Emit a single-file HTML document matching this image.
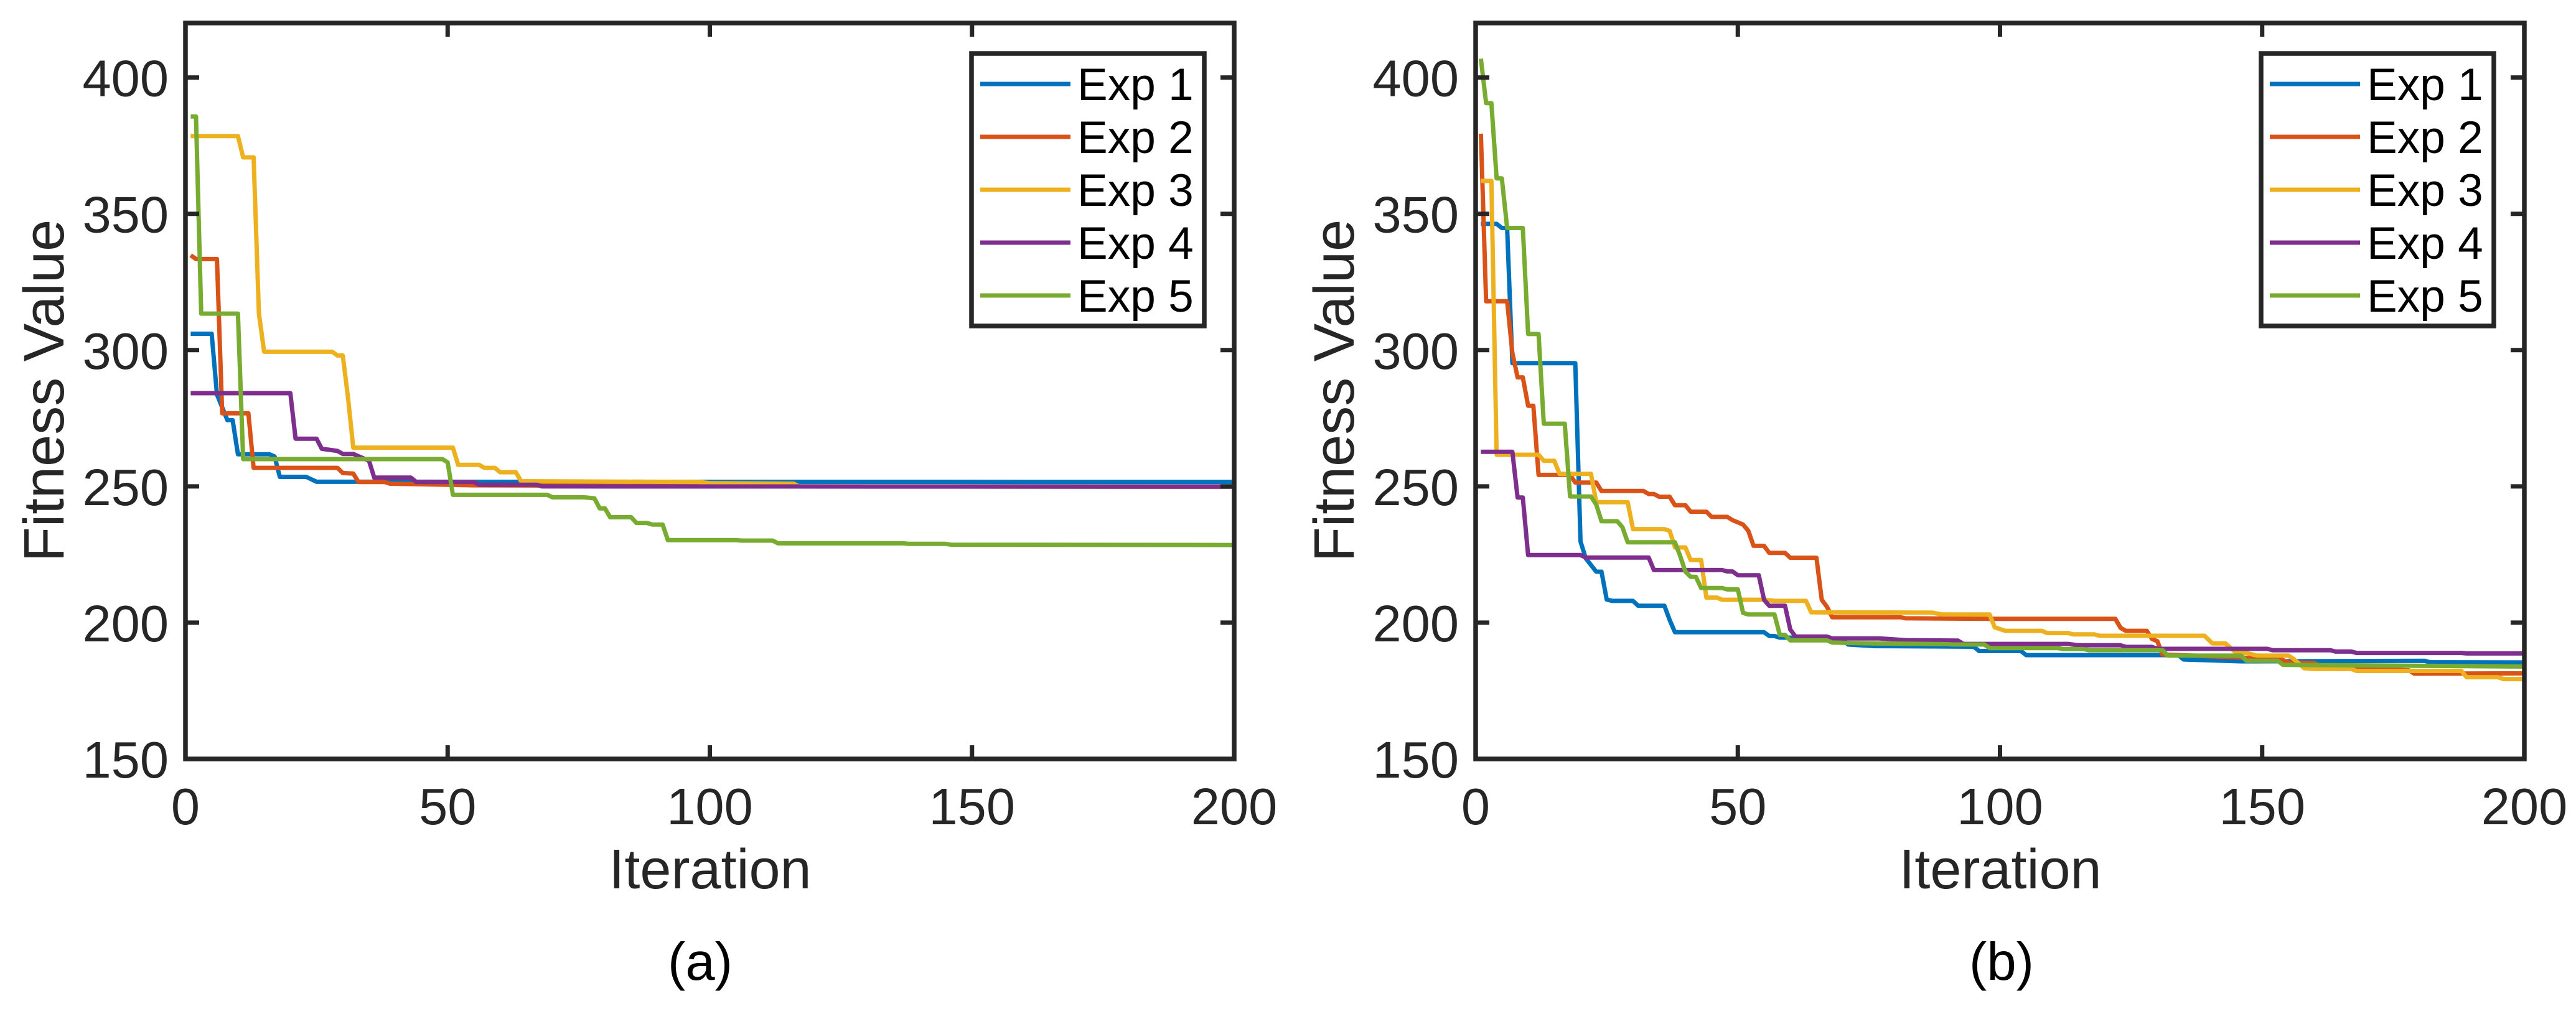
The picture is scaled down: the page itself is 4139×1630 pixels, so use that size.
<!DOCTYPE html>
<html lang="en">
<head>
<meta charset="utf-8">
<title>Fitness Value vs Iteration</title>
<style>
html,body{margin:0;padding:0;background:#fff;}
svg{display:block;font-family:"Liberation Sans",Arial,sans-serif;}
</style>
</head>
<body>
<svg id="figure" xmlns="http://www.w3.org/2000/svg" width="4139" height="1630" viewBox="0 0 4139 1630">
  <rect x="0" y="0" width="4139" height="1630" fill="#ffffff"/>
  <g id="panel-a"></g>
  <g id="panel-b"></g>
  <text x="1141" y="1428" font-size="90" fill="#262626" text-anchor="middle">Iteration</text>
  <text x="3214" y="1428" font-size="90" fill="#262626" text-anchor="middle">Iteration</text>
  <text transform="translate(102 628) rotate(-90)" font-size="92" fill="#262626" text-anchor="middle">Fitness Value</text>
  <text transform="translate(2175 628) rotate(-90)" font-size="92" fill="#262626" text-anchor="middle">Fitness Value</text>
  <text x="1125" y="1575" font-size="85" fill="#000000" text-anchor="middle">(a)</text>
  <text x="3216" y="1575" font-size="85" fill="#000000" text-anchor="middle">(b)</text>
</svg>
<script>
// Axis tick labels
const xTickLabels = [0, 50, 100, 150, 200];
const yTickLabels = [150, 200, 250, 300, 350, 400];
const legendLabels = ["Exp 1", "Exp 2", "Exp 3", "Exp 4", "Exp 5"];
const seriesColors = ["#0072BD", "#D95319", "#EDB120", "#7E2F8E", "#77AC30"];

// Panel (a) series: iteration breakpoints and fitness values
const a1Iter = [1, 5, 6, 8, 9, 10, 16, 17, 18, 23, 25, 200];
const a1Val = [306, 306, 283.7, 274.3, 274.3, 261.8, 261.8, 261, 253.5, 253.5, 251.7, 251.6];
const a2Iter = [1, 2, 6, 7, 12, 13, 29, 30, 32, 33, 38, 39, 55, 116, 200];
const a2Val = [334.8, 333.4, 333.4, 276.8, 276.8, 256.8, 256.8, 254.9, 254.7, 251.6, 251.6, 251, 250.4, 250, 249.9];
const a3Iter = [1, 10, 11, 13, 14, 15, 28, 29, 30, 31, 32, 51, 52, 56, 57, 59, 60, 63, 64, 98, 100, 116, 117, 200];
const a3Val = [378.5, 378.5, 370.7, 370.7, 313.4, 299.4, 299.4, 298, 298, 282.5, 264.2, 264.2, 257.9, 257.9, 256.8, 256.8, 255.2, 255.2, 251.9, 251.6, 251.2, 251, 250, 249.9];
const a4Iter = [1, 20, 21, 25, 26, 29, 30, 32, 35, 36, 43, 44, 55, 56, 67, 68, 200];
const a4Val = [284.2, 284.2, 267.5, 267.5, 263.8, 263, 261.9, 261.9, 259.4, 253.2, 253.2, 251.6, 251.6, 250.6, 250.6, 250, 249.9];
const a5Iter = [1, 2, 3, 10, 11, 49, 50, 51, 69, 70, 76, 78, 79, 80, 81, 85, 86, 88, 89, 91, 92, 105, 106, 112, 113, 137, 138, 145, 146, 200];
const a5Val = [385.7, 385.7, 313.4, 313.4, 260, 260, 258.8, 246.9, 246.9, 246, 246, 245.6, 241.9, 241.9, 238.7, 238.7, 236.6, 236.6, 236, 236, 230.3, 230.3, 230.1, 230.1, 229.1, 229.1, 228.9, 228.9, 228.6, 228.5];

// Panel (b) series: iteration breakpoints and fitness values
const b1Iter = [1, 4, 5, 6, 7, 19, 20, 21, 23, 24, 25, 26, 30, 31, 36, 37, 38, 55, 56, 57, 58, 67, 68, 70, 71, 76, 95, 96, 104, 105, 134, 135, 146, 181, 182, 200];
const b1Val = [346.3, 346.3, 344.8, 344.8, 295.2, 295.2, 229.8, 223.6, 218.7, 218.7, 208.5, 208, 208, 206.2, 206.2, 201, 196.5, 196.5, 195.1, 195.1, 194.5, 194.5, 194, 194, 192, 191.4, 191.2, 189.6, 189.6, 188.1, 188.1, 186.5, 185.8, 186, 185.5, 185.4];
const b2Iter = [1, 2, 6, 7, 8, 9, 10, 11, 12, 18, 19, 23, 24, 32, 33, 34, 35, 37, 38, 40, 41, 44, 45, 48, 49, 51, 52, 53, 55, 56, 59, 60, 65, 66, 67, 68, 81, 82, 98, 122, 123, 124, 128, 129, 130, 131, 137, 147, 153, 155, 160, 161, 178, 179, 200];
const b2Val = [379.4, 317.9, 317.9, 299, 290, 290, 279.6, 279.6, 254.2, 254.2, 251.4, 251.4, 248.3, 248.3, 247.2, 247.2, 246.2, 246.2, 243.1, 243.1, 240.7, 240.7, 238.8, 238.8, 237.6, 236, 233.7, 228.2, 228.2, 225.6, 225.6, 223.8, 223.8, 208.4, 205.8, 202, 202, 201.6, 201.4, 201.4, 198.1, 197, 197, 194, 193.2, 188.3, 187.9, 187.1, 187.1, 185.4, 185.2, 184, 182.5, 181.3, 181.4];
const b3Iter = [1, 3, 4, 12, 13, 15, 16, 22, 23, 29, 30, 36, 37, 38, 40, 41, 43, 44, 46, 47, 55, 57, 63, 64, 87, 89, 98, 99, 101, 108, 109, 113, 114, 118, 119, 139, 140.5, 143, 145, 147, 149, 155, 156, 158, 160, 167, 168, 188, 189, 195, 196, 200];
const b3Val = [362.1, 362.1, 261.6, 261.6, 259.4, 259.4, 254.6, 254.6, 244.2, 244.2, 234.3, 234.3, 233.7, 227.6, 227.6, 223, 223, 209.2, 209.2, 208.4, 208.4, 208, 208, 203.8, 203.7, 203, 203, 198.3, 197, 197, 196.2, 196.2, 195.7, 195.7, 195.2, 195.2, 192.4, 192.4, 189, 188.9, 187.9, 187.9, 186.7, 183.3, 183, 183, 182.3, 182.3, 180, 180, 179.3, 179.3];
const b4Iter = [1, 7, 8, 9, 10, 20, 21, 33, 34, 47, 48, 49, 50, 54, 55, 56, 59, 60, 61, 67, 68, 77, 82, 92, 93, 113, 115, 123, 124, 129, 130, 151, 152, 163, 164, 167, 168, 188, 189, 200];
const b4Val = [262.7, 262.7, 245.9, 245.9, 224.8, 224.8, 223.9, 223.9, 219.3, 219.3, 218.8, 218.8, 217.4, 217.4, 208.4, 206.2, 206.2, 197.5, 194.9, 194.9, 194.2, 194.2, 193.6, 193.4, 192.2, 192.2, 191.7, 191.7, 191.1, 191.1, 190.4, 190.4, 189.9, 189.9, 189.4, 189.4, 188.9, 188.9, 188.7, 188.7];
const b5Iter = [1, 2, 3, 4, 5, 6, 9, 10, 12, 13, 17, 18, 22, 23, 24, 27, 28, 29, 38, 39, 40, 41, 42, 43, 47, 48, 50, 51, 52, 57, 58, 59, 60, 67, 68, 75, 90, 91, 97, 98, 111, 112, 116, 117, 131, 132, 146, 147, 153, 154, 200];
const b5Val = [406.9, 390.6, 390.6, 363, 363, 344.8, 344.8, 305.9, 305.9, 273, 273, 246.3, 246.3, 243.3, 237.2, 237.2, 235, 229.5, 229.5, 224.5, 218.7, 216.8, 216.8, 212.7, 212.7, 212.2, 212.2, 203.6, 203, 203, 195.5, 195.5, 193.5, 193.5, 192.7, 192.4, 192.1, 192, 192, 190.7, 190.7, 190.3, 190.3, 189.9, 189.9, 187.9, 187.9, 186, 186, 184.5, 183.9];

const panelASeries = [[a1Iter, a1Val], [a2Iter, a2Val], [a3Iter, a3Val], [a4Iter, a4Val], [a5Iter, a5Val]];
const panelBSeries = [[b1Iter, b1Val], [b2Iter, b2Val], [b3Iter, b3Val], [b4Iter, b4Val], [b5Iter, b5Val]];

const NS = "http://www.w3.org/2000/svg";
const INK = "#262626";
const X_MIN = 0, X_MAX = 200, Y_MIN = 150, Y_MAX = 420;

function mk(tag, attrs, parent) {
  const el = document.createElementNS(NS, tag);
  for (const k in attrs) el.setAttribute(k, attrs[k]);
  parent.appendChild(el);
  return el;
}

function drawPanel(root, series, box, legendBox, suffix) {
  const sx = v => box.left + (v - X_MIN) / (X_MAX - X_MIN) * (box.right - box.left);
  const sy = v => box.bottom - (v - Y_MIN) / (Y_MAX - Y_MIN) * (box.bottom - box.top);

  // Series lines
  series.forEach((s, i) => {
    const pts = s[0].map((it, j) => sx(it).toFixed(1) + "," + sy(s[1][j]).toFixed(1)).join(" ");
    const line = mk("polyline", {points: pts, fill: "none", stroke: seriesColors[i], "stroke-width": 7, "stroke-linejoin": "round"}, root);
    
    
  });

  // Axes box
  const frame = mk("rect", {x: box.left, y: box.top, width: box.right - box.left, height: box.bottom - box.top, fill: "none", stroke: INK, "stroke-width": 7.5}, root);
  
  

  // X ticks and labels
  xTickLabels.forEach(v => {
    const x = sx(v);
    if (v !== X_MIN && v !== X_MAX) {
      const t1 = mk("line", {x1: x, x2: x, y1: box.bottom, y2: box.bottom - 22, stroke: INK, "stroke-width": 7}, root);
      
      
      const t2 = mk("line", {x1: x, x2: x, y1: box.top, y2: box.top + 22, stroke: INK, "stroke-width": 7}, root);
      
      
    }
    const lab = mk("text", {x: x, y: 1325, "font-size": 83, fill: INK, "text-anchor": "middle"}, root);
    lab.textContent = v;
    
    
  });

  // Y ticks and labels
  yTickLabels.forEach(v => {
    const y = sy(v);
    if (v !== Y_MIN) {
      const t1 = mk("line", {x1: box.left, x2: box.left + 22, y1: y, y2: y, stroke: INK, "stroke-width": 7}, root);
      
      
      const t2 = mk("line", {x1: box.right, x2: box.right - 22, y1: y, y2: y, stroke: INK, "stroke-width": 7}, root);
      
      
    }
    const lab = mk("text", {x: box.left - 27, y: y + 30, "font-size": 83, fill: INK, "text-anchor": "end"}, root);
    lab.textContent = v;
    
    
  });

  // Legend
  const legend = mk("g", {}, root);
  
  
  const lbg = mk("rect", {x: legendBox.left, y: legendBox.top, width: legendBox.right - legendBox.left, height: legendBox.bottom - legendBox.top, fill: "#ffffff", stroke: INK, "stroke-width": 7.5}, legend);
  
  
  legendLabels.forEach((name, i) => {
    const y = legendBox.firstRow + i * legendBox.rowStep;
    const swatch = mk("line", {x1: legendBox.left + 14, x2: legendBox.left + 159, y1: y, y2: y, stroke: seriesColors[i], "stroke-width": 7}, legend);
    
    
    const txt = mk("text", {x: legendBox.left + 170, y: y + 26, "font-size": 73, fill: "#000000", "xml:space": "preserve"}, legend);
    txt.textContent = name;
    
    
  });
}

drawPanel(document.getElementById("panel-a"), panelASeries,
  {left: 298, right: 1983, top: 37, bottom: 1220},
  {left: 1561, right: 1935, top: 86, bottom: 524, firstRow: 135, rowStep: 85}, "a");
drawPanel(document.getElementById("panel-b"), panelBSeries,
  {left: 2371, right: 4056, top: 37, bottom: 1220},
  {left: 3633, right: 4007, top: 86, bottom: 524, firstRow: 135, rowStep: 85}, "b");
</script>
</body>
</html>
